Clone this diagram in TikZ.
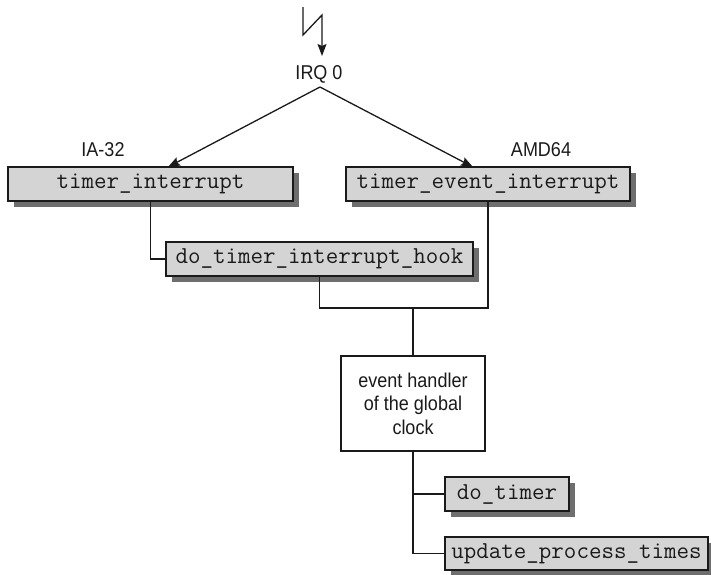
\documentclass[tikz,border=0pt]{standalone}
\usepackage{fontspec}
\newfontfamily\lblfont{Liberation Sans}[FakeStretch=0.9]
\usetikzlibrary{arrows.meta,shadows}
\definecolor{boxfill}{HTML}{D4D4D4}
\definecolor{shadowgray}{HTML}{6E6E6E}
\definecolor{ink}{HTML}{1A1A1A}
\begin{document}
\begin{tikzpicture}[x=1pt,y=-1pt,
  fnbox/.style={draw=ink, fill=boxfill, line width=1.3pt, inner sep=0pt, outer sep=0pt,
    font=\fontsize{24.3}{26}\selectfont\ttfamily, text=ink,
    drop shadow={shadow xshift=6pt, shadow yshift=-6pt, fill=shadowgray, draw=none, opacity=1}},
  plainbox/.style={draw=ink, fill=white, line width=1.3pt, inner sep=0pt, outer sep=0pt,
    font=\fontsize{20}{23.5}\selectfont\lblfont, text=ink, align=center},
  lbl/.style={inner sep=0pt, font=\fontsize{20}{23.5}\selectfont\lblfont, text=ink},
  conn/.style={line width=1.3pt, draw=ink},
  arr/.style={conn, -{Stealth[length=12pt, width=9pt, inset=2pt]}}
]
\useasboundingbox (0,0) rectangle (711,574);

% labels
\node[lbl] (irq) at (319,74) {IRQ 0};
\node[lbl] (ia) at (103,150) {IA-32};
\node[lbl] (amd) at (541,150) {AMD64};

% boxes
\node[fnbox, minimum width=285pt, minimum height=34pt] (ti) at (150.5,184) {timer\_interrupt};
\node[fnbox, minimum width=284pt, minimum height=34pt] (tei) at (488,184) {timer\_event\_interrupt};
\node[fnbox, minimum width=307pt, minimum height=34pt] (hook) at (319.5,259) {do\_timer\_interrupt\_hook};
\node[plainbox, minimum width=144pt, minimum height=95pt] (eh) at (413,403.5) {event handler\\of the global\\clock};
\node[fnbox, minimum width=124pt, minimum height=34pt] (dt) at (507,494) {do\_timer};
\node[fnbox, minimum width=263pt, minimum height=33pt] (upt) at (576.5,553.5) {update\_process\_times};

% lightning
\coordinate (l0) at (303,7);
\coordinate (l1) at (303,35);
\coordinate (l2) at (322,15);
\coordinate (l3) at (322,56);
\draw[arr, line join=miter] (l0) -- (l1) -- (l2) -- (l3);

% irq branches
\coordinate (apex) at (320,87);
\coordinate (tipL) at (168,167);
\coordinate (tipR) at (473,167);
\draw[arr] (apex) -- (tipL);
\draw[arr] (apex) -- (tipR);

% connectors
\coordinate (j) at (413,308);
\draw[conn] (ti.south) |- (hook.west);
\draw[conn] (hook.south) |- (j) -| (tei.south);
\draw[conn] (j) -- (eh.north);
\draw[conn] (eh.south) |- (dt.west);
\draw[conn] (eh.south) |- (upt.west);
\end{tikzpicture}
\end{document}
